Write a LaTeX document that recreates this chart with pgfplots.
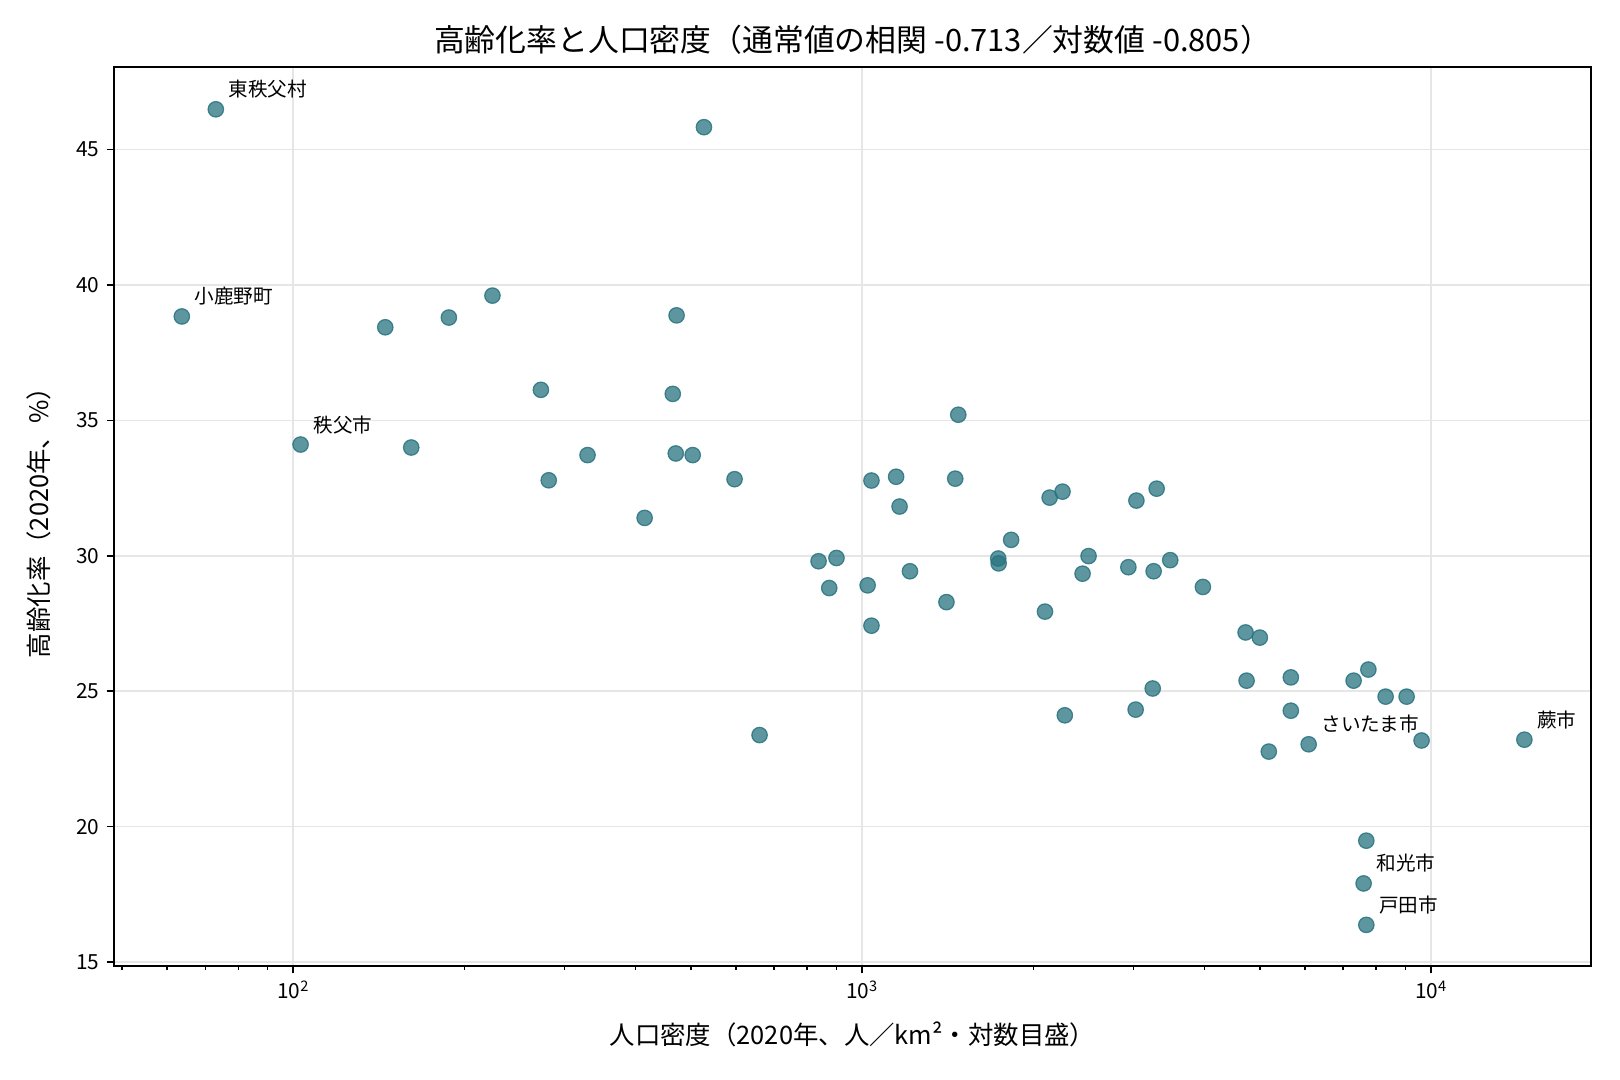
\documentclass[border=0pt]{standalone}
\usepackage{fontspec}
\setmainfont{Noto Sans CJK JP}
\usepackage{pgfplots}
\usepackage{pgfplotstable}
\pgfplotsset{compat=1.18}
\definecolor{pt}{RGB}{40,115,128}
\definecolor{gridc}{RGB}{230,230,230}

\pgfplotstableread{
x y
73.1 46.49
527 45.83
63.7 38.84
223.9 39.61
145.1 38.44
187.7 38.80
471.7 38.88
272.4 36.13
464.5 35.98
103 34.11
161.2 34.00
329 33.72
470.2 33.78
503.5 33.72
281.2 32.79
596.5 32.83
414.5 31.40
660 23.38
1475 35.21
1038 32.78
1147 32.92
1457 32.85
1163 31.82
838 29.80
901 29.92
875 28.81
1022 28.91
1213 29.43
1038 27.42
1406 28.29
1734 29.90
1737 29.72
1827 30.59
2135 32.15
2249 32.37
2095 27.94
2270 24.11
2439 29.34
2499 29.99
2936 29.58
3033 32.04
3292 32.48
3252 29.43
3478 29.84
3024 24.32
3240 25.10
3970 28.85
4718 27.17
4998 26.98
4737 25.39
5666 25.51
5666 24.28
5183 22.77
6090 23.04
7305 25.39
7756 25.80
8315 24.80
9053 24.80
9617 23.18
14580 23.21
7691 19.48
7607 17.90
7691 16.37
}\data

\begin{document}
\begin{tikzpicture}
\useasboundingbox (-54.7pt,-54.7pt) rectangle (722.9pt,463.7pt);
\begin{axis}[
  at={(0,0)}, anchor=south west,
  scale only axis, width=709pt, height=431.5pt,
  xmode=log, log basis x=10,
  xmin=48.4, xmax=19100, ymin=14.85, ymax=48.05,
  xtick={100,1000,10000},
  xticklabels={10\textsuperscript{2},10\textsuperscript{3},10\textsuperscript{4}},
  minor xtick={50,60,70,80,90,200,300,400,500,600,700,800,900,2000,3000,4000,5000,6000,7000,8000,9000},
  ytick={15,20,25,30,35,40,45},
  yticklabels={15,20,25,30,35,40,45},
  tick align=outside, tick pos=left,
  major tick length=3.5pt, minor tick length=2pt,
  every tick/.style={black, line width=0.8pt},
  minor tick style={black, line width=0.6pt},
  axis line style={line width=0.8pt},
  grid=major, major grid style={gridc, line width=0.8pt},
  ticklabel style={font=\fontsize{10}{12}\selectfont},
  xlabel={人口密度（2020年、人／km²・対数目盛）},
  ylabel={高齢化率（2020年、\%）},
  xlabel style={font=\fontsize{12.2}{14}\selectfont, at={(axis description cs:0.5,0)}, anchor=center, yshift=-33pt},
  ylabel style={font=\fontsize{12.2}{14}\selectfont, at={(axis description cs:-0.0508,0.5)}, anchor=center, rotate=0},
  title={高齢化率と人口密度（通常値の相関 -0.713／対数値 -0.805）},
  title style={font=\fontsize{14.8}{17}\selectfont, at={(axis description cs:0.5,1)}, anchor=center, yshift=7pt},
]
\addplot[only marks, mark=*, mark size=3.7pt,
  mark options={fill=pt, fill opacity=0.75, draw=pt, draw opacity=0.85, line width=0.6pt}]
  table[x=x, y=y] {\data};
\begin{scope}[every node/.style={anchor=base west, inner sep=0pt, xshift=6pt, yshift=6pt, font=\fontsize{9.4}{10}\selectfont}]
\node at (axis cs:73.1,46.49) {東秩父村};
\node at (axis cs:63.7,38.84) {小鹿野町};
\node at (axis cs:103,34.11) {秩父市};
\node at (axis cs:6090,23.04) {さいたま市};
\node at (axis cs:14580,23.21) {蕨市};
\node at (axis cs:7607,17.90) {和光市};
\node at (axis cs:7691,16.37) {戸田市};
\end{scope}
\end{axis}
\end{tikzpicture}
\end{document}
